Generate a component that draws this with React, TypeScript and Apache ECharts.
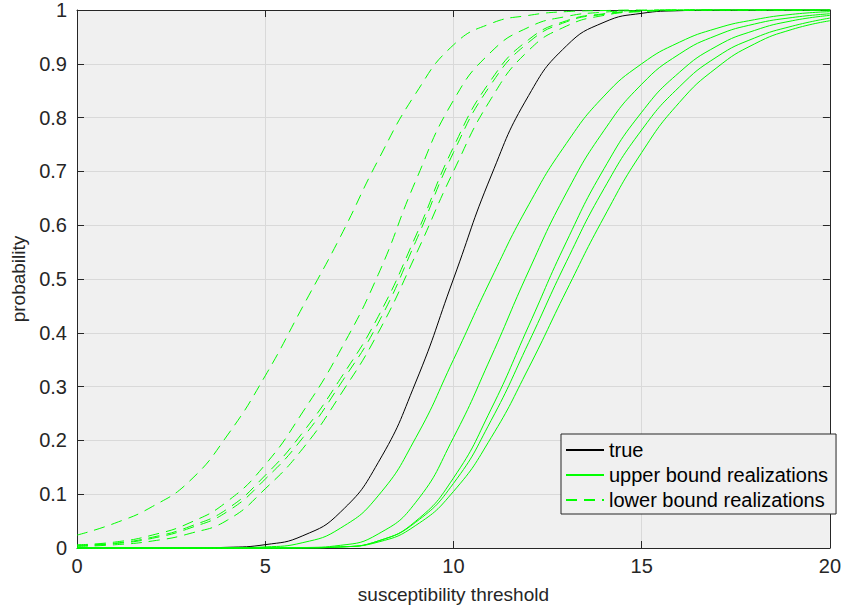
import React, { useEffect, useRef } from "react";
import * as echarts from "echarts";

const xs = [0, 1, 2, 3, 4, 5, 6, 7, 8, 9, 10, 11, 12, 13, 14, 15, 16, 17, 18, 19, 20];

const trueCdf = [0, 0, 0, 0.0002, 0.0013, 0.0062, 0.0228, 0.0668, 0.1587, 0.3085, 0.5, 0.6915, 0.8413, 0.9332, 0.9772, 0.9938, 0.9987, 0.9998, 1, 1, 1];

const upper1 = [0, 0, 0, 0, 0.0003, 0.002, 0.01, 0.037, 0.097, 0.205, 0.35, 0.5, 0.638, 0.752, 0.84, 0.9, 0.94, 0.966, 0.982, 0.992, 0.997];
const upper2 = [0, 0, 0, 0, 0, 0.0001, 0.0008, 0.005, 0.026, 0.085, 0.205, 0.355, 0.515, 0.66, 0.776, 0.862, 0.918, 0.953, 0.974, 0.986, 0.993];
const upper3 = [0, 0, 0, 0, 0, 0, 0.0003, 0.002, 0.013, 0.05, 0.13, 0.258, 0.413, 0.569, 0.705, 0.81, 0.884, 0.933, 0.962, 0.98, 0.99];
const upper4 = [0, 0, 0, 0, 0, 0, 0.0003, 0.002, 0.013, 0.048, 0.12, 0.237, 0.382, 0.532, 0.668, 0.777, 0.857, 0.913, 0.948, 0.97, 0.985];
const upper5 = [0, 0, 0, 0, 0, 0, 0.0003, 0.002, 0.011, 0.042, 0.105, 0.205, 0.335, 0.478, 0.615, 0.735, 0.828, 0.893, 0.937, 0.964, 0.98];

const lower1 = [0.024, 0.046, 0.077, 0.125, 0.21, 0.32, 0.449, 0.579, 0.721, 0.845, 0.935, 0.975, 0.99, 0.997, 0.999, 1, 1, 1, 1, 1, 1];
const lower2 = [0.006, 0.011, 0.024, 0.047, 0.087, 0.155, 0.253, 0.368, 0.508, 0.683, 0.832, 0.922, 0.968, 0.988, 0.996, 0.999, 1, 1, 1, 1, 1];
const lower3 = [0.005, 0.009, 0.02, 0.04, 0.073, 0.135, 0.215, 0.315, 0.43, 0.58, 0.745, 0.87, 0.945, 0.98, 0.993, 0.998, 1, 1, 1, 1, 1];
const lower4 = [0.004, 0.008, 0.018, 0.037, 0.068, 0.128, 0.205, 0.305, 0.418, 0.57, 0.735, 0.862, 0.94, 0.978, 0.992, 0.998, 1, 1, 1, 1, 1];
const lower5 = [0.003, 0.006, 0.013, 0.027, 0.052, 0.11, 0.185, 0.285, 0.4, 0.545, 0.7, 0.835, 0.925, 0.97, 0.99, 0.997, 0.999, 1, 1, 1, 1];

const upperSets = [upper1, upper2, upper3, upper4, upper5];
const lowerSets = [lower1, lower2, lower3, lower4, lower5];

const xTicks = [0, 5, 10, 15, 20];
const yTicks = [0, 0.1, 0.2, 0.3, 0.4, 0.5, 0.6, 0.7, 0.8, 0.9, 1];

const NAME_TRUE = "true";
const NAME_UPPER = "upper bound realizations";
const NAME_LOWER = "lower bound realizations";

const FONT = "'Liberation Sans', Arial, Helvetica, sans-serif";
const AXIS_COLOR = "#262626";
const GRID_COLOR = "#d9d9d9";
const GREEN = "#00ff00";

const pairs = (ys: number[]) => xs.map((x, i) => [x, ys[i]]);

export default function App() {
  const ref = useRef<HTMLDivElement>(null);

  useEffect(() => {
    if (!ref.current) return;
    const chart = echarts.init(ref.current, null, { renderer: "svg" });

    const lineBase = {
      type: "line",
      symbol: "none",
      showSymbol: false,
      smooth: 0.5,
      clip: false,
      silent: true,
    };

    const series: any[] = [
      {
        ...lineBase,
        name: NAME_TRUE,
        data: pairs(trueCdf),
        lineStyle: { color: "#000000", width: 1 },
        itemStyle: { color: "#000000" },
        z: 2,
      },
      ...upperSets.map((ys) => ({
        ...lineBase,
        name: NAME_UPPER,
        data: pairs(ys),
        lineStyle: { color: GREEN, width: 1 },
        itemStyle: { color: GREEN },
        z: 3,
      })),
      ...lowerSets.map((ys) => ({
        ...lineBase,
        name: NAME_LOWER,
        data: pairs(ys),
        lineStyle: { color: GREEN, width: 1, type: [11, 7] },
        itemStyle: { color: GREEN },
        z: 3,
      })),
    ];

    const tickStyle = { show: true, inside: true, length: 7, lineStyle: { color: AXIS_COLOR, width: 1 } };

    chart.setOption({
      animation: false,
      textStyle: { fontFamily: FONT },
      grid: {
        left: 77,
        right: 13,
        top: 10,
        bottom: 62,
        show: true,
        backgroundColor: "#f0f0f0",
        borderWidth: 0,
      },
      legend: {
        data: [NAME_TRUE, NAME_UPPER, NAME_LOWER],
        orient: "vertical",
        left: 561,
        top: 434,
        padding: [6, 8, 4, 4],
        itemWidth: 38,
        itemHeight: 14,
        itemGap: 5,
        selectedMode: false,
        backgroundColor: "#f0f0f0",
        borderColor: AXIS_COLOR,
        borderWidth: 1,
        borderRadius: 0,
        itemStyle: { color: "rgba(0,0,0,0)", borderWidth: 0, opacity: 0 },
        textStyle: { fontSize: 20, color: "#000000", lineHeight: 20, fontFamily: FONT },
      },
      xAxis: [
        {
          type: "value",
          min: xTicks[0],
          max: xTicks[xTicks.length - 1],
          interval: xTicks[1] - xTicks[0],
          position: "bottom",
          name: "susceptibility threshold",
          nameLocation: "middle",
          nameGap: 37,
          nameTextStyle: { fontSize: 19, color: AXIS_COLOR, fontFamily: FONT },
          axisLine: { show: true, onZero: false, lineStyle: { color: AXIS_COLOR, width: 1 } },
          axisTick: tickStyle,
          axisLabel: { fontSize: 20, color: AXIS_COLOR, margin: 8, fontFamily: FONT },
          splitLine: { show: true, lineStyle: { color: GRID_COLOR, width: 1 } },
        },
        {
          type: "value",
          min: xTicks[0],
          max: xTicks[xTicks.length - 1],
          interval: xTicks[1] - xTicks[0],
          position: "top",
          axisLine: { show: true, onZero: false, lineStyle: { color: AXIS_COLOR, width: 1 } },
          axisTick: tickStyle,
          axisLabel: { show: false },
          splitLine: { show: false },
        },
      ],
      yAxis: [
        {
          type: "value",
          min: yTicks[0],
          max: yTicks[yTicks.length - 1],
          interval: yTicks[1] - yTicks[0],
          position: "left",
          name: "probability",
          nameLocation: "middle",
          nameGap: 48,
          nameTextStyle: { fontSize: 19, color: AXIS_COLOR, fontFamily: FONT },
          axisLine: { show: true, onZero: false, lineStyle: { color: AXIS_COLOR, width: 1 } },
          axisTick: tickStyle,
          axisLabel: { fontSize: 20, color: AXIS_COLOR, margin: 10, fontFamily: FONT },
          splitLine: { show: true, lineStyle: { color: GRID_COLOR, width: 1 } },
        },
        {
          type: "value",
          min: yTicks[0],
          max: yTicks[yTicks.length - 1],
          interval: yTicks[1] - yTicks[0],
          position: "right",
          axisLine: { show: true, onZero: false, lineStyle: { color: AXIS_COLOR, width: 1 } },
          axisTick: tickStyle,
          axisLabel: { show: false },
          splitLine: { show: false },
        },
      ],
      series,
    });

    return () => {
      chart.dispose();
    };
  }, []);

  return (
    <div
      ref={ref}
      style={{ position: "fixed", left: 0, top: 0, width: 844, height: 610, background: "#ffffff" }}
    />
  );
}
